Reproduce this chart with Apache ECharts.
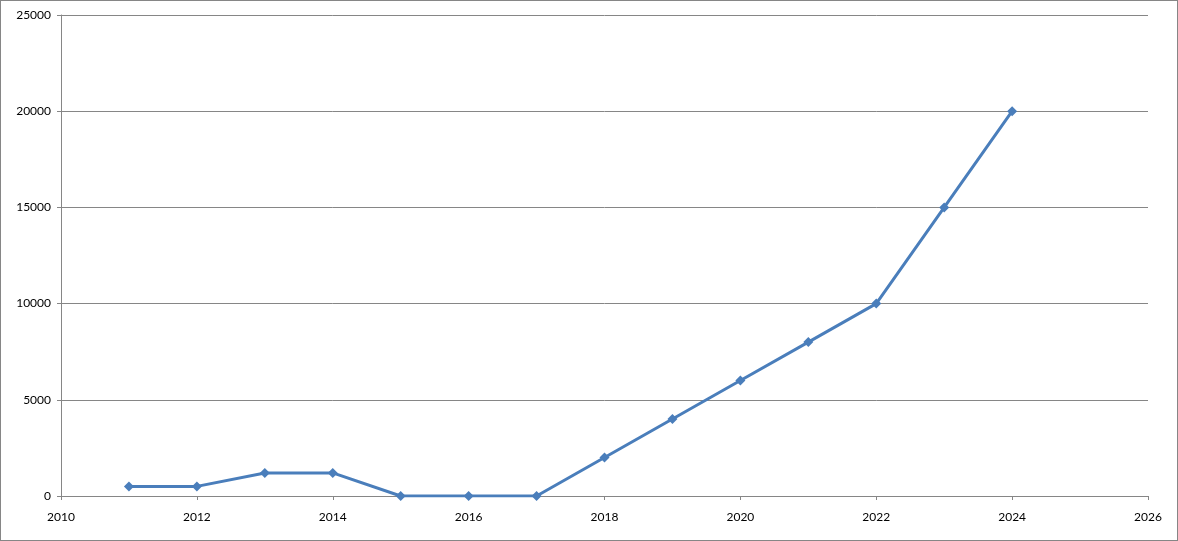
<!DOCTYPE html>
<html><head><meta charset="utf-8">
<script src="https://cdn.jsdelivr.net/npm/echarts@6/dist/echarts.min.js"></script>
<style>
html,body{margin:0;padding:0;background:#fff;}
#wrap{position:absolute;left:0;top:0;width:1176px;height:539px;border:1px solid #868686;}
#c{width:1176px;height:539px;}
</style></head><body>
<div id="wrap"><div id="c"></div></div>
<script>
const years = [2011, 2012, 2013, 2014, 2015, 2016, 2017, 2018, 2019, 2020, 2021, 2022, 2023, 2024];
const values = [500, 500, 1200, 1200, 0, 0, 0, 2000, 4000, 6000, 8000, 10000, 15000, 20000];
const xRange = [2010, 2026];
const yRange = [0, 25000];

const chart = echarts.init(document.getElementById('c'), null, {renderer: 'canvas'});
const font = 'Lato, "Open Sans", sans-serif';
chart.setOption({
  animation: false,
  grid: {left: 60, right: 29, top: 14, bottom: 44},
  xAxis: {
    type: 'value', min: xRange[0], max: xRange[1], interval: 2,
    axisLine: {show: true, onZero: false, lineStyle: {color: '#868686', width: 1}},
    axisTick: {show: true, length: 4, lineStyle: {color: '#868686'}},
    axisLabel: {color: '#000', fontSize: 12, fontFamily: font, margin: 15, formatter: v => String(v)},
    splitLine: {show: false}
  },
  yAxis: {
    type: 'value', min: yRange[0], max: yRange[1], interval: 5000,
    axisLine: {show: true, lineStyle: {color: '#868686', width: 1}},
    axisTick: {show: true, length: 4, lineStyle: {color: '#868686'}},
    axisLabel: {color: '#000', fontSize: 12, fontFamily: font, margin: 10, formatter: v => String(v)},
    splitLine: {show: true, lineStyle: {color: '#868686', width: 1}}
  },
  series: [{
    type: 'line',
    data: years.map((y, i) => [y, values[i]]),
    symbol: 'diamond', symbolSize: 10,
    lineStyle: {color: '#4a7ebb', width: 3},
    itemStyle: {color: '#4a7ebb'}
  }]
});
</script>
</body></html>
